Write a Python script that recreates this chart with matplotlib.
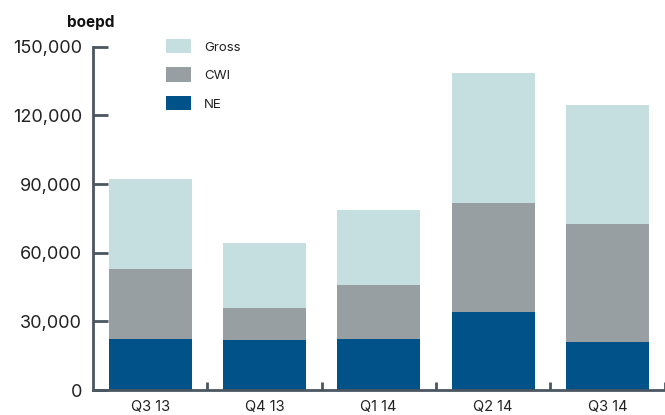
import matplotlib
matplotlib.use("Agg")
import matplotlib.pyplot as plt
import numpy as np
from matplotlib.ticker import FuncFormatter, FixedLocator

categories = ["Q3 13", "Q4 13", "Q1 14", "Q2 14", "Q3 14"]
ne = [22300, 21800, 22300, 34100, 21000]
cwi_top = [53000, 35800, 45900, 81700, 72500]
gross_top = [92200, 64200, 78700, 138500, 124500]
yticks = [0, 30000, 60000, 90000, 120000, 150000]

cwi = [c - n for c, n in zip(cwi_top, ne)]
gross = [g - c for g, c in zip(gross_top, cwi_top)]

c_gross = "#c5dfe0"
c_cwi = "#979fa2"
c_ne = "#005288"
axis_c = "#4a5661"

plt.rcParams['font.family'] = ['Inter', 'DejaVu Sans']

fig = plt.figure(figsize=(6.65, 4.15), dpi=100)
W, H = 665, 415
ax = fig.add_axes([93 / W, 1 - 390 / H, (664.5 - 93) / W, (390 - 46.7) / H])

x = np.arange(len(categories))
w = 0.726
b1 = ax.bar(x, ne, w, color=c_ne, label="NE")
b2 = ax.bar(x, cwi, w, bottom=ne, color=c_cwi, label="CWI")
b3 = ax.bar(x, gross, w, bottom=cwi_top, color=c_gross, label="Gross")

ax.set_xlim(-0.5, len(categories) - 0.5)
ax.set_ylim(0, 150000)

ax.set_yticks(yticks)
ax.yaxis.set_major_formatter(FuncFormatter(lambda v, p: f"{int(v):,}"))
ax.tick_params(axis='y', direction='in', length=10.5, width=2, color=axis_c,
               labelsize=13, labelcolor="#222222", pad=8)

ax.set_xticks(x)
ax.set_xticklabels(categories)
ax.tick_params(axis='x', which='major', length=0, labelsize=10.5, labelcolor="#222222", pad=7)
ax.xaxis.set_minor_locator(FixedLocator(np.arange(0.5, len(categories), 1.0)))
ax.tick_params(axis='x', which='minor', direction='in', length=6, width=2, color=axis_c)

for s in ["top", "right"]:
    ax.spines[s].set_visible(False)
for s in ["left", "bottom"]:
    ax.spines[s].set_color(axis_c)
    ax.spines[s].set_linewidth(2)

fig.text(91 / W, 1 - 23 / H, "boepd", ha="center", va="center",
         fontsize=11, fontweight="bold", color="#111111")

handles = [b3, b2, b1]
labels = ["Gross", "CWI", "NE"]
leg = fig.legend(handles, labels, loc="upper left",
                 bbox_to_anchor=(166 / W, 1 - 39 / H),
                 frameon=False, fontsize=9.5, handlelength=1.9, handleheight=1.3,
                 labelspacing=1.05, handletextpad=1.0, borderpad=0, borderaxespad=0)
for t in leg.get_texts():
    t.set_color("#222222")

fig.savefig("out.png", dpi=100)
